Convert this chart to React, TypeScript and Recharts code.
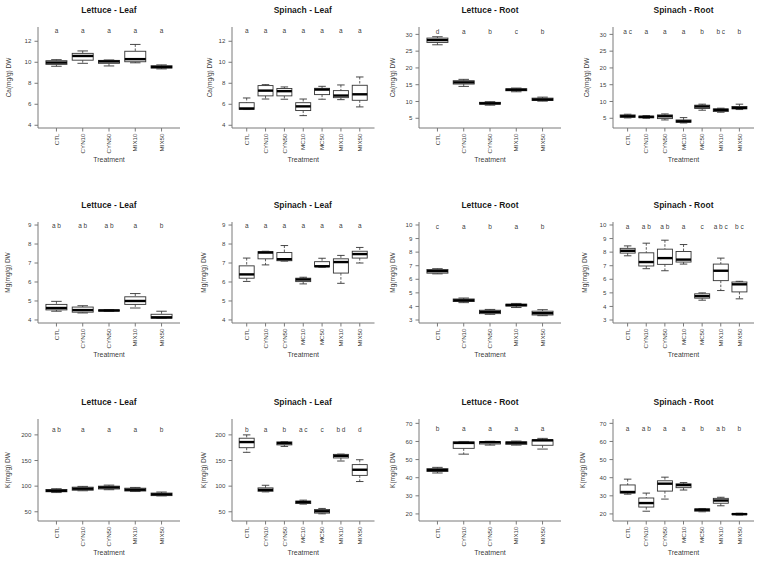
import React from "react";
import { ComposedChart, Bar, Scatter, XAxis, YAxis } from "recharts";

/* ── Categories ─────────────────────────────────────────────── */

const LETTUCE_CATS = ["CTL", "CYN10", "CYN50", "MIX10", "MIX50"];
const SPINACH_CATS = ["CTL", "CYN10", "CYN50", "MC10", "MC50", "MIX10", "MIX50"];

/* ── Box stats: [lower whisker, Q1, median, Q3, upper whisker] ── */

type Five = number[];

const CA_LETTUCE_LEAF: Five[] = [
  [9.62, 9.8, 9.97, 10.15, 10.25],
  [9.9, 10.2, 10.6, 10.85, 11.08],
  [9.65, 9.9, 10.08, 10.18, 10.22],
  [9.95, 10.05, 10.3, 11.05, 11.7],
  [9.37, 9.45, 9.55, 9.67, 9.75],
];
const CA_SPINACH_LEAF: Five[] = [
  [5.5, 5.52, 5.6, 6.15, 6.6],
  [6.5, 6.8, 7.3, 7.78, 7.87],
  [6.48, 6.8, 7.25, 7.5, 7.65],
  [4.92, 5.4, 5.8, 6.15, 6.5],
  [6.48, 6.92, 7.4, 7.52, 7.71],
  [6.44, 6.63, 6.83, 7.3, 7.84],
  [5.75, 6.38, 6.95, 7.81, 8.6],
];
const CA_LETTUCE_ROOT: Five[] = [
  [26.9, 27.6, 28.3, 28.9, 29.3],
  [14.5, 15.2, 15.7, 16.2, 16.6],
  [8.9, 9.2, 9.45, 9.75, 9.95],
  [12.9, 13.2, 13.5, 13.8, 14.0],
  [10.1, 10.3, 10.6, 11.0, 11.3],
];
const CA_SPINACH_ROOT: Five[] = [
  [5.1, 5.3, 5.6, 6.0, 6.2],
  [5.0, 5.15, 5.4, 5.65, 5.8],
  [4.5, 4.9, 5.6, 6.0, 6.3],
  [3.6, 3.8, 4.1, 4.5, 5.2],
  [7.4, 7.9, 8.5, 8.9, 9.2],
  [6.8, 7.0, 7.5, 7.8, 8.0],
  [7.6, 7.8, 8.1, 8.5, 9.2],
];
const MG_LETTUCE_LEAF: Five[] = [
  [4.46, 4.53, 4.63, 4.82, 4.98],
  [4.37, 4.41, 4.52, 4.68, 4.75],
  [4.45, 4.47, 4.5, 4.53, 4.55],
  [4.63, 4.82, 5.0, 5.22, 5.39],
  [4.08, 4.09, 4.14, 4.3, 4.46],
];
const MG_SPINACH_LEAF: Five[] = [
  [6.03, 6.2, 6.4, 6.85, 7.26],
  [6.9, 7.22, 7.55, 7.6, 7.62],
  [7.1, 7.12, 7.2, 7.55, 7.92],
  [5.9, 6.02, 6.13, 6.2, 6.25],
  [6.78, 6.8, 6.83, 7.07, 7.25],
  [5.93, 6.47, 7.05, 7.22, 7.4],
  [7.0, 7.26, 7.47, 7.62, 7.82],
];
const MG_LETTUCE_ROOT: Five[] = [
  [6.4, 6.45, 6.6, 6.72, 6.78],
  [4.28, 4.36, 4.45, 4.55, 4.62],
  [3.42, 3.47, 3.6, 3.72, 3.78],
  [3.92, 4.03, 4.1, 4.17, 4.22],
  [3.32, 3.37, 3.5, 3.65, 3.76],
];
const MG_SPINACH_ROOT: Five[] = [
  [7.73, 7.93, 8.1, 8.28, 8.46],
  [6.78, 6.98, 7.27, 7.95, 8.66],
  [6.63, 7.1, 7.56, 8.22, 8.88],
  [7.12, 7.27, 7.45, 8.05, 8.56],
  [4.46, 4.61, 4.76, 4.93, 5.0],
  [5.17, 5.9, 6.63, 7.12, 7.56],
  [4.56, 5.07, 5.63, 5.8, 5.85],
];
const K_LETTUCE_LEAF: Five[] = [
  [87.5, 89, 91, 93.5, 95],
  [91, 92, 95, 98, 99.5],
  [93, 94.5, 97.5, 100, 102],
  [89.5, 90.5, 93, 96, 97.5],
  [81, 81.5, 84, 86.5, 88.5],
];
const K_SPINACH_LEAF: Five[] = [
  [166, 175, 186, 193.5, 200],
  [88.8, 90, 92.7, 96.6, 101.7],
  [177.5, 180.5, 183.8, 186.4, 187],
  [65, 66, 68.8, 71, 72.7],
  [46, 47.4, 51, 54.5, 56.5],
  [149, 155, 159, 162, 162.5],
  [109, 121, 132, 142, 151.5],
];
const K_LETTUCE_ROOT: Five[] = [
  [42.6, 43.4, 44.2, 45, 45.7],
  [53, 56.2, 59.2, 59.8, 60],
  [58, 58.6, 59.6, 59.9, 60.1],
  [58, 58.4, 59.3, 59.8, 60.2],
  [55.8, 57.9, 60.6, 60.9, 61.7],
];
const K_SPINACH_ROOT: Five[] = [
  [30.9, 31.5, 32.1, 36, 39.2],
  [21.5, 23.8, 26, 28.8, 31.5],
  [28.2, 32.6, 36.7, 38.3, 40.3],
  [33.2, 34.5, 35.9, 36.6, 37.3],
  [21.2, 21.5, 22.3, 22.8, 23],
  [24.5, 25.9, 27.4, 28.6, 29.2],
  [19.4, 19.6, 19.9, 20.2, 20.4],
];

/* ── Significance letters ───────────────────────────────────── */

const CA_LL_LETTERS = ["a", "a", "a", "a", "a"];
const CA_SL_LETTERS = ["a", "a", "a", "a", "a", "a", "a"];
const CA_LR_LETTERS = ["d", "a", "b", "c", "b"];
const CA_SR_LETTERS = ["a c", "a", "a", "a", "b", "b c", "b"];
const MG_LL_LETTERS = ["a b", "a b", "a b", "a", "b"];
const MG_SL_LETTERS = ["a", "a", "a", "a", "a", "a", "a"];
const MG_LR_LETTERS = ["c", "a", "b", "a", "b"];
const MG_SR_LETTERS = ["a", "a b", "a b", "a", "c", "a b c", "b c"];
const K_LL_LETTERS = ["a b", "a", "a", "a", "b"];
const K_SL_LETTERS = ["b", "a", "b", "a c", "c", "b d", "d"];
const K_LR_LETTERS = ["b", "a", "a", "a", "a"];
const K_SR_LETTERS = ["a", "a b", "a", "a", "b", "a b", "b"];

/* ── Axis scales ────────────────────────────────────────────── */

const CA_LEAF_DOMAIN = [3.74, 13.36];
const CA_LEAF_TICKS = [4, 6, 8, 10, 12];
const CA_ROOT_DOMAIN = [2.1, 32.2];
const CA_ROOT_TICKS = [5, 10, 15, 20, 25, 30];
const MG_LEAF_DOMAIN = [3.84, 9.16];
const MG_LEAF_TICKS = [4, 5, 6, 7, 8, 9];
const MG_ROOT_DOMAIN = [2.78, 10.22];
const MG_ROOT_TICKS = [3, 4, 5, 6, 7, 8, 9, 10];
const K_LEAF_DOMAIN = [32, 231];
const K_LEAF_TICKS = [50, 100, 150, 200];
const K_ROOT_DOMAIN = [16.1, 72.4];
const K_ROOT_TICKS = [20, 30, 40, 50, 60, 70];

/* ── Panels (row-major) ─────────────────────────────────────── */

const PANELS = [
  { title: "Lettuce - Leaf", ylabel: "Ca(mg/g) DW", cats: LETTUCE_CATS, stats: CA_LETTUCE_LEAF, letters: CA_LL_LETTERS, letterY: 13, domain: CA_LEAF_DOMAIN, ticks: CA_LEAF_TICKS },
  { title: "Spinach - Leaf", ylabel: "Ca(mg/g) DW", cats: SPINACH_CATS, stats: CA_SPINACH_LEAF, letters: CA_SL_LETTERS, letterY: 13, domain: CA_LEAF_DOMAIN, ticks: CA_LEAF_TICKS },
  { title: "Lettuce - Root", ylabel: "Ca(mg/g) DW", cats: LETTUCE_CATS, stats: CA_LETTUCE_ROOT, letters: CA_LR_LETTERS, letterY: 30.9, domain: CA_ROOT_DOMAIN, ticks: CA_ROOT_TICKS },
  { title: "Spinach - Root", ylabel: "Ca(mg/g) DW", cats: SPINACH_CATS, stats: CA_SPINACH_ROOT, letters: CA_SR_LETTERS, letterY: 30.9, domain: CA_ROOT_DOMAIN, ticks: CA_ROOT_TICKS },
  { title: "Lettuce - Leaf", ylabel: "Mg(mg/g) DW", cats: LETTUCE_CATS, stats: MG_LETTUCE_LEAF, letters: MG_LL_LETTERS, letterY: 8.95, domain: MG_LEAF_DOMAIN, ticks: MG_LEAF_TICKS },
  { title: "Spinach - Leaf", ylabel: "Mg(mg/g) DW", cats: SPINACH_CATS, stats: MG_SPINACH_LEAF, letters: MG_SL_LETTERS, letterY: 8.95, domain: MG_LEAF_DOMAIN, ticks: MG_LEAF_TICKS },
  { title: "Lettuce - Root", ylabel: "Mg(mg/g) DW", cats: LETTUCE_CATS, stats: MG_LETTUCE_ROOT, letters: MG_LR_LETTERS, letterY: 9.9, domain: MG_ROOT_DOMAIN, ticks: MG_ROOT_TICKS },
  { title: "Spinach - Root", ylabel: "Mg(mg/g) DW", cats: SPINACH_CATS, stats: MG_SPINACH_ROOT, letters: MG_SR_LETTERS, letterY: 9.9, domain: MG_ROOT_DOMAIN, ticks: MG_ROOT_TICKS },
  { title: "Lettuce - Leaf", ylabel: "K(mg/g) DW", cats: LETTUCE_CATS, stats: K_LETTUCE_LEAF, letters: K_LL_LETTERS, letterY: 210, domain: K_LEAF_DOMAIN, ticks: K_LEAF_TICKS },
  { title: "Spinach - Leaf", ylabel: "K(mg/g) DW", cats: SPINACH_CATS, stats: K_SPINACH_LEAF, letters: K_SL_LETTERS, letterY: 210, domain: K_LEAF_DOMAIN, ticks: K_LEAF_TICKS },
  { title: "Lettuce - Root", ylabel: "K(mg/g) DW", cats: LETTUCE_CATS, stats: K_LETTUCE_ROOT, letters: K_LR_LETTERS, letterY: 67, domain: K_ROOT_DOMAIN, ticks: K_ROOT_TICKS },
  { title: "Spinach - Root", ylabel: "K(mg/g) DW", cats: SPINACH_CATS, stats: K_SPINACH_ROOT, letters: K_SR_LETTERS, letterY: 67, domain: K_ROOT_DOMAIN, ticks: K_ROOT_TICKS },
];

/* ── Layout (plot box edges in page px) ─────────────────────── */

const COLS = [[38, 180], [231.5, 374], [419, 561], [613, 754]];
const ROWS = [[27, 128], [222, 323], [419, 521]];
const YLABEL_GAP = [29, 22, 26, 26.5, 30, 28, 26, 28, 30, 28, 26, 30];

const AXIS_W = 40;
const TOP_M = 24;
const X_H = 34;
const PAD = { left: 5.3, right: 5.3 };

const FONT = "'Liberation Sans', Arial, sans-serif";
const TEXT = "#333";
const TEXT_OP = 0.97;
const FRAME = "#7a7a7a";
const BOX = "#333";

/* ── Shapes ─────────────────────────────────────────────────── */

const BoxShape = (p: any) => {
  const { x, y, width, height, payload } = p;
  if (x == null || !payload) return null;
  const top = Math.min(y, y + height);
  const bot = Math.max(y, y + height);
  const { lo, q1, med, q3, hi } = payload;
  const py = (v: number) => bot - ((v - lo) / (hi - lo)) * (bot - top);
  const cx = x + width / 2;
  const hw = width / 4;
  return (
    <g>
      <line x1={cx} x2={cx} y1={py(hi)} y2={py(q3)} stroke={BOX} strokeWidth={0.8} strokeDasharray="2.5 1.5" />
      <line x1={cx} x2={cx} y1={py(q1)} y2={py(lo)} stroke={BOX} strokeWidth={0.8} strokeDasharray="2.5 1.5" />
      <line x1={cx - hw} x2={cx + hw} y1={py(hi)} y2={py(hi)} stroke={BOX} strokeWidth={0.9} />
      <line x1={cx - hw} x2={cx + hw} y1={py(lo)} y2={py(lo)} stroke={BOX} strokeWidth={0.9} />
      <rect x={x} y={py(q3)} width={width} height={Math.max(py(q1) - py(q3), 0.5)} fill="#fff" stroke={BOX} strokeWidth={0.9} />
      <line x1={x} x2={x + width} y1={py(med)} y2={py(med)} stroke="#000" strokeWidth={2.4} />
    </g>
  );
};

const LetterShape = (p: any) => (
  <text x={p.cx} y={p.cy} textAnchor="middle" dominantBaseline="central" fontSize={6.5} fill={TEXT} fillOpacity={TEXT_OP}>
    {p.payload.letter}
  </text>
);

const XTick = (p: any) => (
  <text
    x={p.x}
    y={p.y}
    transform={`rotate(-90, ${p.x}, ${p.y})`}
    textAnchor="end"
    dy="0.35em"
    fontSize={6.2}
    fill={TEXT}
    fillOpacity={TEXT_OP}
  >
    {p.payload.value}
  </text>
);

/* ── Panel ──────────────────────────────────────────────────── */

function Panel({ spec, idx }: { spec: any; idx: number }) {
  const [l, r] = COLS[idx % 4];
  const [t, b] = ROWS[Math.floor(idx / 4)];
  const plotW = r - l;
  const plotH = b - t;

  const data = spec.cats.map((c: string, i: number) => ({
    cat: c,
    lo: spec.stats[i][0],
    q1: spec.stats[i][1],
    med: spec.stats[i][2],
    q3: spec.stats[i][3],
    hi: spec.stats[i][4],
    letter: spec.letters[i],
    ly: spec.letterY,
  }));

  return (
    <div style={{ position: "absolute", left: l - AXIS_W, top: t - TOP_M }}>
      <div
        style={{
          position: "absolute",
          left: AXIS_W,
          width: plotW,
          top: 2,
          height: 11,
          lineHeight: "11px",
          textAlign: "center",
          fontSize: 8.5,
          fontWeight: "bold",
          color: "rgba(17,17,17,0.97)",
        }}
      >
        {spec.title}
      </div>
      <ComposedChart
        width={AXIS_W + plotW + 2}
        height={TOP_M + plotH + X_H}
        data={data}
        margin={{ top: TOP_M, right: 2, bottom: 0, left: 0 }}
        barCategoryGap="10%"
      >
        <XAxis
          dataKey="cat"
          interval={0}
          padding={PAD}
          height={X_H}
          stroke={FRAME}
          tickSize={3.5}
          tickMargin={2}
          tick={<XTick />}
          label={{ value: "Treatment", position: "insideBottom", offset: 0, style: { fontSize: 7, fill: TEXT, fillOpacity: TEXT_OP } }}
        />
        <XAxis xAxisId="top" orientation="top" dataKey="cat" padding={PAD} height={0} tick={false} tickLine={false} stroke={FRAME} />
        <YAxis
          type="number"
          domain={spec.domain}
          ticks={spec.ticks}
          allowDataOverflow
          interval={0}
          width={AXIS_W}
          stroke={FRAME}
          tickSize={3.5}
          tickMargin={3}
          tick={{ fontSize: 6.2, fill: TEXT, fillOpacity: TEXT_OP }}
          label={{
            value: spec.ylabel,
            angle: -90,
            position: "insideLeft",
            offset: AXIS_W - YLABEL_GAP[idx],
            style: { textAnchor: "middle", fontSize: 6.5, fill: TEXT, fillOpacity: TEXT_OP },
          }}
        />
        <YAxis yAxisId="right" orientation="right" type="number" domain={spec.domain} allowDataOverflow width={0} tick={false} tickLine={false} stroke={FRAME} />
        <Bar dataKey={(d: any) => [d.lo, d.hi]} shape={BoxShape} isAnimationActive={false} />
        <Scatter xAxisId="top" yAxisId="right" dataKey="ly" shape={LetterShape} isAnimationActive={false} />
      </ComposedChart>
    </div>
  );
}

export default function App() {
  return (
    <div
      style={{
        position: "absolute",
        left: 0,
        top: 0,
        width: 763,
        height: 563,
        background: "#fff",
        fontFamily: FONT,
      }}
    >
      {PANELS.map((p, i) => (
        <Panel key={i} spec={p} idx={i} />
      ))}
    </div>
  );
}
